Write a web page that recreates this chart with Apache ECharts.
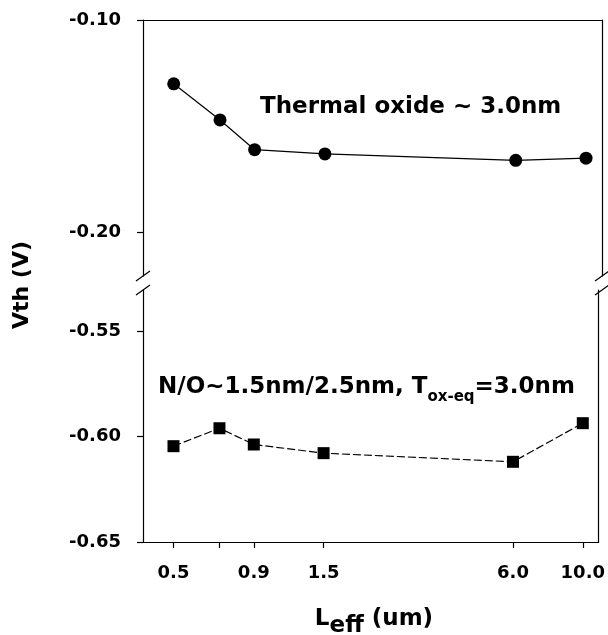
<!DOCTYPE html>
<html lang="en">
<head>
	<meta charset="UTF-8">
	<title>Vth vs Leff</title>
	<style>
		* {
			margin: 0;
			padding: 0;
		}

		#box {
			width: 608px;
			height: 635px;
		}
	</style>
	<script src="https://cdn.jsdelivr.net/npm/echarts@6.0.0/dist/echarts.min.js"></script>
</head>
<body>
<div id="box"></div>
</body>
<script>
	// L_eff (um)
	const leff = [0.5, 0.7, 0.9, 1.5, 6.0, 10.0];
	// thermal oxide ~3.0nm
	const vthThermal = [-0.130, -0.147, -0.161, -0.163, -0.166, -0.165];
	// N/O stack
	const vthNO = [-0.6046, -0.5961, -0.6038, -0.6079, -0.6120, -0.5937];
	// tick labels
	const xLabels = [0.5, 0.9, 1.5, 6.0, 10.0];
	const xTicks = [0.5, 0.7, 0.9, 1.5, 6.0, 10.0];
	const yTopTicks = [-0.10, -0.20];
	const yBottomTicks = [-0.55, -0.60, -0.65];

	const font = 'DejaVu Sans';
	const black = '#000';

	const myEcharts = echarts.init(document.getElementById('box'));

	const pairs = function (xs, ys) {
		return xs.map(function (x, i) {
			return [x, ys[i]];
		});
	};

	// text with subscripts: pieces = [[text, size, baselineShift], ...]
	const ctx = document.createElement('canvas').getContext('2d');
	function textRun(pieces, x, baseline, center) {
		const widths = pieces.map(function (p) {
			ctx.font = 'bold ' + p[1] + 'px "' + font + '"';
			return ctx.measureText(p[0]).width;
		});
		let cx = center ? x - widths.reduce(function (a, b) {
			return a + b;
		}, 0) / 2 : x;
		return pieces.map(function (p, i) {
			const el = {
				type: 'text', x: cx, y: baseline + p[2] - 0.35 * p[1],
				style: {
					text: p[0], fill: black,
					font: 'bold ' + p[1] + 'px "' + font + '"', align: 'left', verticalAlign: 'middle',
				},
			};
			cx += widths[i];
			return el;
		});
	}

	const axisLine = {show: true, lineStyle: {color: black, width: 1.2}};
	const tickLabel = {
		color: black, fontFamily: font, fontWeight: 'bold', fontSize: 18,
	};

	// grid geometry (pixels), the break sits between the two grids
	const L = 143, R = 6, TOP = 20, TOP_H = 256, BOT_T = 290, BOT_B = 93;
	const xBreakL = L, xBreakR = 608 - R;
	const yEndTop = TOP + TOP_H, yStartBot = BOT_T;

	function slash(cx, cy) {
		return {
			type: 'line',
			shape: {x1: cx - 7, y1: cy + 5, x2: cx + 7, y2: cy - 5},
			style: {stroke: black, lineWidth: 1.2},
			z: 100,
		};
	}

	myEcharts.setOption({
		animation: false,
		backgroundColor: '#fff',
		grid: [
			{left: L, right: R, top: TOP, height: TOP_H},
			{left: L, right: R, top: BOT_T, bottom: BOT_B},
		],
		xAxis: [
			{
				gridIndex: 0, type: 'log', min: 0.4, max: 11.23, position: 'top',
				axisLine: axisLine, axisTick: {show: false}, axisLabel: {show: false},
				splitLine: {show: false}, minorTick: {show: false},
			},
			{
				gridIndex: 1, type: 'log', min: 0.4, max: 11.23, position: 'bottom',
				axisLine: axisLine,
				axisTick: {show: true, length: 6, customValues: xTicks, lineStyle: {color: black, width: 1.2}},
				axisLabel: Object.assign({
					customValues: xLabels, margin: 22,
					formatter: function (v) {
						return Number(v).toFixed(1);
					},
				}, tickLabel),
				splitLine: {show: false}, minorTick: {show: false},
			},
		],
		yAxis: [
			{
				gridIndex: 0, type: 'value', min: -0.2204, max: -0.10,
				axisLine: axisLine,
				axisTick: {show: true, length: 6, customValues: yTopTicks, lineStyle: {color: black, width: 1.2}},
				axisLabel: Object.assign({
					customValues: yTopTicks, margin: 22,
					formatter: function (v) {
						return Number(v).toFixed(2);
					},
				}, tickLabel),
				splitLine: {show: false},
			},
			{
				gridIndex: 0, type: 'value', min: -0.2204, max: -0.10, position: 'right',
				axisLine: axisLine, axisTick: {show: false}, axisLabel: {show: false},
				splitLine: {show: false},
			},
			{
				gridIndex: 1, type: 'value', min: -0.65, max: -0.5306,
				axisLine: axisLine,
				axisTick: {show: true, length: 6, customValues: yBottomTicks, lineStyle: {color: black, width: 1.2}},
				axisLabel: Object.assign({
					customValues: yBottomTicks, margin: 22,
					formatter: function (v) {
						return Number(v).toFixed(2);
					},
				}, tickLabel),
				splitLine: {show: false},
			},
			{
				gridIndex: 1, type: 'value', min: -0.65, max: -0.5306, position: 'right',
				axisLine: axisLine, axisTick: {show: false}, axisLabel: {show: false},
				splitLine: {show: false},
			},
		],
		series: [
			{
				name: 'Thermal oxide',
				type: 'line',
				xAxisIndex: 0, yAxisIndex: 0,
				data: pairs(leff, vthThermal),
				symbol: 'circle', symbolSize: 13,
				itemStyle: {color: black},
				lineStyle: {color: black, width: 1.2},
			},
			{
				name: 'N/O',
				type: 'line',
				xAxisIndex: 1, yAxisIndex: 2,
				data: pairs(leff, vthNO),
				symbol: 'rect', symbolSize: 12,
				itemStyle: {color: black},
				lineStyle: {color: black, width: 1.2, type: [8, 3]},
			},
		],
		graphic: [
			// axis break marks
			slash(xBreakL, yEndTop), slash(xBreakL, yStartBot),
			slash(xBreakR, yEndTop), slash(xBreakR, yStartBot),
			{
				type: 'text', x: 260, y: 107,
				style: {
					text: 'Thermal oxide ~ 3.0nm', fill: black,
					font: 'bold 23px "DejaVu Sans"', align: 'left', verticalAlign: 'middle',
				},
			},
			{
				type: 'text', x: 22, y: 285, rotation: Math.PI / 2,
				style: {
					text: 'Vth (V)', fill: black,
					font: 'bold 22px "DejaVu Sans"', align: 'center', verticalAlign: 'middle',
				},
			},
		]
			.concat(textRun([['N/O~1.5nm/2.5nm, T', 23, 0], ['ox-eq', 15, 7], ['=3.0nm', 23, 0]], 158, 395, false))
			.concat(textRun([['L', 23, 0], ['eff', 23, 7], [' (um)', 23, 0]], 374, 627, true)),
	});
</script>
</html>
